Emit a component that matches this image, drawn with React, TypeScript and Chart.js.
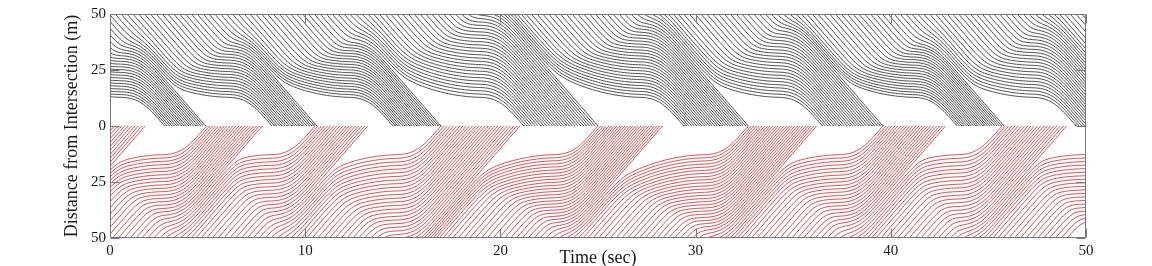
import { useEffect, useRef } from "react";
import { Chart, registerables } from "chart.js";

Chart.register(...registerables);

// ---- values ----
const timeTicks = [0, 10, 20, 30, 40, 50];
const distanceTicks = [-50, -25, 0, 25, 50];

// times (s) when each approach's platoon starts / stops crossing (first two are before the window)
const blackCrossStart = [-9.5, -3.3, 2.8, 8.3, 14.5, 21.2, 29.4, 36.5, 43.4, 49.5, 56.0];
const blackCrossEnd = [-6.8, -0.5, 4.9, 10.6, 16.95, 25.0, 32.7, 39.6, 45.8, 52.5, 59.0];
const redCrossStart = [-12.5, -6.5, -1.0, 4.95, 10.5, 16.95, 25.0, 32.7, 39.6, 45.7, 52.0];
const redCrossEnd = [-9.8, -3.5, 1.8, 7.8, 13.2, 21.0, 28.3, 36.2, 42.8, 49.0, 55.0];

const blackFirstArrival = -25.0;
const redFirstArrival = -24.85;
const arrivalGap = 0.3; // s between vehicles entering at 50 m
const zoneLength = 50; // m
const cruiseSpeed = 10; // m/s
const baseDelay = 1.0; // s delay of the last vehicle of a platoon
const releaseLead = 0.15; // s between end of acceleration and first crossing
const rampTime = 2.2; // s of acceleration after release
const creepSpeed = 0.3; // m/s while waiting
const queueCurve = 0.5; // m/s^2 curvature of the waiting profile
const smooth = 1.6; // m, rounding of merges

const BLACK = "rgb(45,45,45)";
const RED = "rgb(196,50,50)";
const AXIS = "rgb(120,120,120)";
const TEXT = "rgb(25,25,25)";
const FONT = "'Liberation Serif', 'DejaVu Serif', serif";

const T0 = -30;
const T1 = 60;
const DT = 0.04;
const NT = Math.round((T1 - T0) / DT) + 1;

type P = { x: number; y: number | null };

function smax(a: number, b: number) {
  const m = Math.max(a, b);
  return m + smooth * Math.log(Math.exp((a - m) / smooth) + Math.exp((b - m) / smooth));
}

function leadProfile(t: number, crossStart: number) {
  const v = cruiseSpeed;
  const R = rampTime;
  const r = crossStart - R - releaseLead;
  const rampDist = ((creepSpeed + v) / 2) * R;
  const q0 = rampDist + v * releaseLead;
  if (t <= r) {
    const tau = r - t;
    return q0 + creepSpeed * tau + queueCurve * tau * tau;
  }
  const tau = t - r;
  if (tau <= R) {
    return q0 - (creepSpeed * tau + (v - creepSpeed) * (tau / 2 - (R * Math.sin((Math.PI * tau) / R)) / (2 * Math.PI)));
  }
  return q0 - rampDist - v * (tau - R);
}

function emit(out: P[], d: Float64Array, sign: number) {
  let start = -1;
  for (let i = 0; i < NT; i++) {
    if (d[i] <= zoneLength) {
      start = Math.max(0, i - 1);
      break;
    }
  }
  if (start < 0) return;
  let end = -1;
  for (let i = start; i < NT; i++) {
    if (d[i] <= 0) {
      end = i;
      break;
    }
  }
  if (end < 0) end = NT - 1;
  const tEnd = T0 + end * DT;
  if (tEnd < -0.3) return;
  const tStart = T0 + start * DT;
  if (tStart > 50.5) return;
  const lo = Math.max(start, Math.floor((-0.5 - T0) / DT));
  const hi = Math.min(end - 1, Math.ceil((50.5 - T0) / DT));
  for (let i = lo; i <= hi; i += 2) {
    out.push({ x: T0 + i * DT, y: sign * d[i] });
  }
  if (hi >= lo && (hi - lo) % 2 !== 0) out.push({ x: T0 + hi * DT, y: sign * d[hi] });
  if (d[end] <= 0 && end > 0) {
    const a = d[end - 1];
    const b = d[end];
    const f = a / (a - b);
    out.push({ x: T0 + (end - 1 + f) * DT, y: 0 });
  }
  out.push({ x: T0 + end * DT, y: null });
}

function buildDirection(starts: number[], ends: number[], firstArrival: number, sign: number): P[] {
  const out: P[] = [];
  const v = cruiseSpeed;
  const travel = zoneLength / v;
  let prev: Float64Array | null = null;
  for (let k = 0; k < starts.length; k++) {
    const lo = k === 0 ? -Infinity : ends[k - 1] - baseDelay;
    const hi = ends[k] - baseDelay;
    const members: number[] = [];
    for (let i = 0; i < 400; i++) {
      const e = firstArrival + i * arrivalGap;
      const free = e + travel;
      if (free > lo + 1e-9 && free <= hi + 1e-9) members.push(e);
    }
    const n = members.length;
    if (n === 0) continue;
    const spacing = n > 1 ? (v * (ends[k] - starts[k])) / (n - 1) : 1.3;
    members.forEach((e, j) => {
      const d = new Float64Array(NT);
      for (let i = 0; i < NT; i++) {
        const t = T0 + i * DT;
        let x = zoneLength - v * (t - e);
        if (j === 0) {
          x = smax(x, leadProfile(t, starts[k]));
          if (prev) x = smax(x, prev[i] + spacing);
        } else if (prev) {
          x = smax(x, prev[i] + spacing);
        }
        d[i] = x;
      }
      prev = d;
      emit(out, d, sign);
    });
  }
  return out;
}

const framePlugin = {
  id: "frame",
  afterDatasetsDraw(chart: any) {
    const { ctx, chartArea: a, scales } = chart;
    ctx.save();
    ctx.strokeStyle = AXIS;
    ctx.lineWidth = 1;
    ctx.beginPath();
    const L = Math.round(a.left) + 0.5;
    const R = Math.round(a.right) - 0.5;
    const T = Math.round(a.top) + 0.5;
    const B = Math.round(a.bottom) - 0.5;
    ctx.rect(L, T, R - L, B - T);
    for (const t of timeTicks) {
      const x = Math.round(scales.x.getPixelForValue(t)) + 0.5;
      ctx.moveTo(x, B);
      ctx.lineTo(x, B - 9);
      ctx.moveTo(x, T);
      ctx.lineTo(x, T + 9);
    }
    for (const d of distanceTicks) {
      const y = Math.round(scales.y.getPixelForValue(d)) + 0.5;
      ctx.moveTo(L, y);
      ctx.lineTo(L + 9, y);
      ctx.moveTo(R, y);
      ctx.lineTo(R - 9, y);
    }
    ctx.stroke();
    ctx.restore();
  },
};

export default function App() {
  const ref = useRef<HTMLCanvasElement | null>(null);
  useEffect(() => {
    if (!ref.current) return;
    const black = buildDirection(blackCrossStart, blackCrossEnd, blackFirstArrival, 1);
    const red = buildDirection(redCrossStart, redCrossEnd, redFirstArrival, -1);
    const chart = new Chart(ref.current, {
      type: "line",
      data: {
        datasets: [
          { data: red as any, borderColor: RED, borderWidth: 0.85, pointRadius: 0, spanGaps: false, tension: 0, clip: 0 } as any,
          { data: black as any, borderColor: BLACK, borderWidth: 0.85, pointRadius: 0, spanGaps: false, tension: 0, clip: 0 } as any,
        ],
      },
      options: {
        animation: false,
        responsive: false,
        events: [],
        layout: { padding: { left: 0, right: 66, top: 14, bottom: 0 } },
        plugins: { legend: { display: false }, tooltip: { enabled: false } },
        scales: {
          x: {
            type: "linear",
            min: 0,
            max: 50,
            afterBuildTicks: (s: any) => {
              s.ticks = timeTicks.map((v) => ({ value: v }));
            },
            ticks: { color: TEXT, font: { family: FONT, size: 15 }, padding: 4, maxRotation: 0, autoSkip: false },
            grid: { display: false, drawTicks: false },
            border: { display: false },
            title: { display: true, text: "Time (sec)", color: TEXT, font: { family: FONT, size: 18 }, padding: { top: 0, bottom: -3 } },
            afterFit: (s: any) => {
              s.height = 28;
            },
          },
          y: {
            type: "linear",
            min: -50,
            max: 50,
            afterBuildTicks: (s: any) => {
              s.ticks = distanceTicks.map((v) => ({ value: v }));
            },
            ticks: { color: TEXT, font: { family: FONT, size: 15 }, padding: 4, callback: (v: any) => String(Math.abs(Number(v))) },
            grid: { display: false, drawTicks: false },
            border: { display: false },
            title: { display: true, text: "Distance from Intersection (m)", color: TEXT, font: { family: FONT, size: 18 }, padding: { top: 61, bottom: 0 } },
            afterFit: (s: any) => {
              s.width = 110;
            },
          },
        },
      } as any,
      plugins: [framePlugin],
    });
    return () => chart.destroy();
  }, []);
  return (
    <div style={{ position: "absolute", left: 0, top: 0, width: 1152, height: 266, background: "#fff" }}>
      <canvas ref={ref} width={1152} height={266} style={{ width: 1152, height: 266, display: "block" }} />
    </div>
  );
}
